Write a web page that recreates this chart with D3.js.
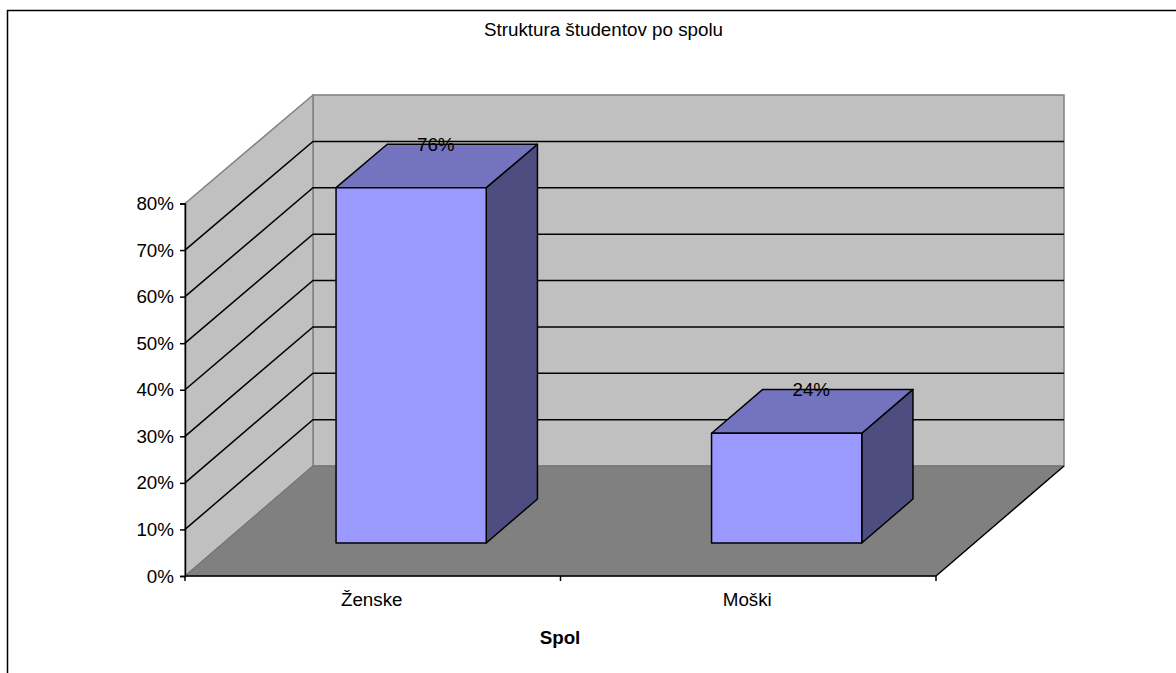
<!DOCTYPE html>
<html>
<head>
<meta charset="utf-8">
<script src="https://cdn.jsdelivr.net/npm/d3@7"></script>
<style>
  html, body { margin: 0; padding: 0; background: #fff; }
  svg { display: block; }
  text { font-family: "Liberation Sans", Arial, sans-serif; fill: #000; }
</style>
</head>
<body>
<div id="chart-area"></div>
<script>
// DATA
var categories = ["Ženske", "Moški"];
var shares = [76.4, 23.6];
var yTicks = [0, 10, 20, 30, 40, 50, 60, 70, 80];
var titleText = "Struktura študentov po spolu";
var xTitleText = "Spol";

// GRAPHIC'S SIZE
var width = 1176;
var height = 673;
var fontSize = 18.8;

var svg = d3.select("#chart-area")
    .append("svg")
    .attr("width", width)
    .attr("height", height);

// Scales: front edge of the box, back wall, and how far back a depth fraction sits
var x = d3.scaleBand().domain(categories).range([185, 936]).paddingInner(0).paddingOuter(0);
var yFront = d3.scaleLinear().domain([0, 80]).range([576, 203.5]);
var yBack = d3.scaleLinear().domain([0, 80]).range([466, 95]);
var depthX = d3.scaleLinear().domain([0, 1]).range([0, 128]);

// depth 0 = front plane, depth 1 = back wall
function project(px, value, depth) {
    return [px + depthX(depth), yFront(value) + depth * (yBack(value) - yFront(value))];
}

var line = d3.line();
var x0 = x.range()[0];
var x1 = x.range()[1];
var yMax = d3.max(yTicks);

// Chart frame (only top and left are visible in the picture)
svg.append("path")
    .attr("d", "M7.5," + height + "V10.5H" + width)
    .attr("fill", "none")
    .attr("stroke", "#000")
    .attr("stroke-width", 1.5);

// Back wall
svg.append("path")
    .attr("d", line([project(x0, 0, 1), project(x0, yMax, 1), project(x1, yMax, 1), project(x1, 0, 1)]) + "Z")
    .attr("fill", "#c0c0c0")
    .attr("stroke", "#808080")
    .attr("stroke-width", 1.5);

// Side wall
svg.append("path")
    .attr("d", line([project(x0, 0, 0), project(x0, yMax, 0), project(x0, yMax, 1), project(x0, 0, 1)]) + "Z")
    .attr("fill", "#c0c0c0")
    .attr("stroke", "#808080")
    .attr("stroke-width", 1.5);

// Floor
svg.append("path")
    .attr("d", line([project(x0, 0, 0), project(x0, 0, 1), project(x1, 0, 1), project(x1, 0, 0)]) + "Z")
    .attr("fill", "#808080")
    .attr("stroke", "#707070")
    .attr("stroke-width", 1);

svg.append("path")
    .attr("d", line([project(x1, 0, 0), project(x1, 0, 1)]))
    .attr("stroke", "#000")
    .attr("stroke-width", 1.4);

// Gridlines, on the side wall and back wall
var gridValues = yTicks.filter(d => d > 0 && d < yMax);
svg.append("g").selectAll("path")
    .data(gridValues)
    .enter().append("path")
    .attr("d", d => line([project(x0, d, 0), project(x0, d, 1), project(x1, d, 1)]))
    .attr("fill", "none")
    .attr("stroke", "#000")
    .attr("stroke-width", 1.5);

// Bars: gap width 150% in both directions
var barFraction = 1 / 2.5;
var barW = x.bandwidth() * barFraction;
var depthStart = (1 - barFraction) / 2;
var depthEnd = depthStart + barFraction;

var bars = svg.append("g").selectAll("g")
    .data(categories.map((c, i) => ({ name: c, value: shares[i] })))
    .enter().append("g");

var barX = d => x(d.name) + (x.bandwidth() - barW) / 2;

// Right side
bars.append("path")
    .attr("d", d => line([
        project(barX(d) + barW, 0, depthStart),
        project(barX(d) + barW, d.value, depthStart),
        project(barX(d) + barW, d.value, depthEnd),
        project(barX(d) + barW, 0, depthEnd)
    ]) + "Z")
    .attr("fill", "#4d4d80");

// Top
bars.append("path")
    .attr("d", d => line([
        project(barX(d), d.value, depthStart),
        project(barX(d), d.value, depthEnd),
        project(barX(d) + barW, d.value, depthEnd),
        project(barX(d) + barW, d.value, depthStart)
    ]) + "Z")
    .attr("fill", "#7373bf");

// Front
bars.append("path")
    .attr("d", d => line([
        project(barX(d), 0, depthStart),
        project(barX(d), d.value, depthStart),
        project(barX(d) + barW, d.value, depthStart),
        project(barX(d) + barW, 0, depthStart)
    ]) + "Z")
    .attr("fill", "#9999ff");

bars.selectAll("path")
    .attr("stroke", "#000")
    .attr("stroke-width", 1.5)
    .attr("stroke-linejoin", "round");

// Data labels: centred on the middle of the bar's depth, level with its back edge
bars.append("text")
    .attr("x", d => project(barX(d) + barW / 2, d.value, 0.5)[0] - 1)
    .attr("y", d => project(barX(d), d.value, depthEnd)[1] + 7)
    .attr("text-anchor", "middle")
    .attr("font-size", fontSize)
    .text(d => d3.format(".0f")(d.value) + "%");

// Y axis
var yAxisCall = d3.axisLeft(yFront)
    .tickValues(yTicks)
    .tickSize(5)
    .tickPadding(6)
    .tickFormat(d => d + "%");

var yAxisGroup = svg.append("g")
    .attr("transform", "translate(" + x0 + ",0)")
    .call(yAxisCall);

// X axis, ticks sit on the band edges so the axis's own are switched off
var xAxisCall = d3.axisBottom(x)
    .tickSize(0)
    .tickPadding(17);

var xAxisGroup = svg.append("g")
    .attr("transform", "translate(0," + yFront(0) + ")")
    .call(xAxisCall);

xAxisGroup.selectAll(".tick text").attr("dx", -1);

xAxisGroup.selectAll(".edge-tick")
    .data(categories.concat("end"))
    .enter().append("line")
    .attr("class", "edge-tick")
    .attr("x1", (d, i) => x0 + i * x.step())
    .attr("x2", (d, i) => x0 + i * x.step())
    .attr("y1", 0)
    .attr("y2", 5)
    .attr("stroke", "#000");

svg.selectAll(".domain, .tick line, .edge-tick")
    .attr("stroke", "#000")
    .attr("stroke-width", 1.5);
xAxisGroup.select(".domain").attr("d", "M" + x0 + ",0H" + x1);
svg.selectAll(".tick text")
    .attr("font-family", '"Liberation Sans", Arial, sans-serif')
    .attr("font-size", fontSize);

// Title
svg.append("text")
    .attr("x", 603.5)
    .attr("y", 36)
    .attr("text-anchor", "middle")
    .attr("font-size", fontSize)
    .text(titleText);

// X label
svg.append("text")
    .attr("x", 560)
    .attr("y", 644)
    .attr("text-anchor", "middle")
    .attr("font-size", fontSize)
    .attr("font-weight", "bold")
    .text(xTitleText);
</script>
</body>
</html>
